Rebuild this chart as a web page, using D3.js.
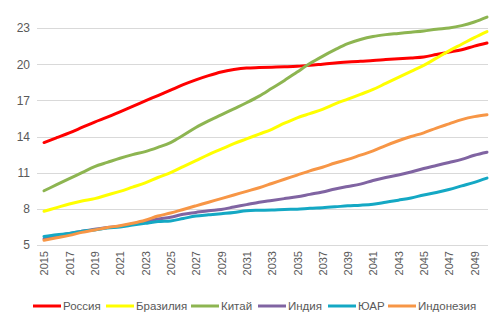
<!DOCTYPE html>
<html>
<head>
<meta charset="utf-8">
<script src="https://cdn.jsdelivr.net/npm/d3@7"></script>
<style>
  body { margin: 0; background: #fff; }
  text { font-family: "Liberation Sans", Arial, sans-serif; fill: #595959; }
</style>
</head>
<body>
<div id="chart"></div>
<script>
const years = d3.range(2015, 2051);
const yTicks = [5, 8, 11, 14, 17, 20, 23];

const russia = [13.5, 13.9, 14.3, 14.75, 15.2, 15.6, 16.05, 16.5, 16.95, 17.4, 17.85, 18.3, 18.7, 19.05, 19.35, 19.55, 19.68, 19.72, 19.75, 19.78, 19.82, 19.9, 20.0, 20.1, 20.18, 20.25, 20.3, 20.38, 20.45, 20.52, 20.6, 20.8, 21.0, 21.2, 21.5, 21.75];
const brazil = [7.8, 8.1, 8.4, 8.65, 8.85, 9.15, 9.45, 9.8, 10.15, 10.6, 11.0, 11.5, 12.0, 12.5, 12.95, 13.4, 13.8, 14.2, 14.6, 15.1, 15.55, 15.9, 16.25, 16.7, 17.1, 17.5, 17.9, 18.4, 18.9, 19.4, 19.9, 20.5, 21.1, 21.65, 22.2, 22.7];
const china = [9.5, 10.0, 10.5, 11.0, 11.5, 11.85, 12.2, 12.5, 12.75, 13.1, 13.5, 14.1, 14.75, 15.3, 15.8, 16.3, 16.8, 17.35, 18.0, 18.65, 19.35, 20.05, 20.65, 21.2, 21.7, 22.05, 22.3, 22.45, 22.55, 22.65, 22.75, 22.9, 23.0, 23.2, 23.5, 23.9];
const india = [5.5, 5.75, 5.95, 6.15, 6.3, 6.45, 6.55, 6.75, 6.95, 7.15, 7.3, 7.55, 7.7, 7.85, 7.95, 8.15, 8.35, 8.55, 8.7, 8.85, 9.0, 9.2, 9.4, 9.65, 9.85, 10.05, 10.35, 10.6, 10.8, 11.05, 11.35, 11.6, 11.85, 12.1, 12.45, 12.7];
const sar = [5.7, 5.85, 5.95, 6.15, 6.25, 6.4, 6.5, 6.65, 6.8, 6.95, 7.0, 7.2, 7.4, 7.5, 7.6, 7.7, 7.85, 7.88, 7.9, 7.95, 7.97, 8.05, 8.1, 8.17, 8.25, 8.3, 8.38, 8.55, 8.72, 8.9, 9.15, 9.35, 9.6, 9.9, 10.2, 10.55];
const indonesia = [5.4, 5.6, 5.8, 6.05, 6.25, 6.45, 6.6, 6.8, 7.05, 7.4, 7.65, 7.95, 8.25, 8.55, 8.85, 9.15, 9.45, 9.75, 10.1, 10.45, 10.8, 11.15, 11.45, 11.8, 12.1, 12.45, 12.8, 13.25, 13.65, 14.0, 14.3, 14.7, 15.05, 15.4, 15.65, 15.8];

const seriesNames = ["Россия", "Бразилия", "Китай", "Индия", "ЮАР", "Индонезия"];
const seriesColors = ["#ff0000", "#ffff00", "#8db551", "#8064a2", "#14a8c4", "#f79646"];
const seriesValues = [russia, brazil, china, india, sar, indonesia];

const W = 504, H = 326;
const gridLeft = 37, gridRight = 488;

const svg = d3.select("#chart").append("svg")
  .attr("width", W)
  .attr("height", H);

// scales
const x = d3.scaleLinear().domain([2015, 2050]).range([44, 487]);
const y = d3.scaleLinear().domain([5, 23]).range([245, 28]);

// horizontal grid
svg.append("g")
  .selectAll("line")
  .data(yTicks)
  .join("line")
  .attr("x1", gridLeft).attr("x2", gridRight)
  .attr("y1", d => Math.round(y(d)) + 0.5)
  .attr("y2", d => Math.round(y(d)) + 0.5)
  .attr("stroke", "#d9d9d9")
  .attr("stroke-width", 1);

// y axis labels
const yAxis = svg.append("g")
  .attr("transform", `translate(${gridLeft - 7},0)`)
  .call(d3.axisLeft(y).tickValues(yTicks).tickSize(0).tickPadding(0));
yAxis.select(".domain").remove();
yAxis.selectAll("text")
  .style("font-size", "12px")
  .attr("fill", "#595959");

// x axis labels (rotated)
const xAxis = svg.append("g")
  .attr("transform", "translate(0,251)")
  .call(d3.axisBottom(x).tickValues(years.filter(d => (d - 2015) % 2 === 0)).tickFormat(d3.format("d")).tickSize(0).tickPadding(0));
xAxis.select(".domain").remove();
xAxis.selectAll("text")
  .style("font-size", "11px")
  .attr("fill", "#595959")
  .attr("transform", "rotate(-90)")
  .attr("text-anchor", "end")
  .attr("x", 0)
  .attr("y", 0)
  .attr("dx", "0")
  .attr("dy", "0.35em");

// lines
const line = d3.line()
  .x((d, i) => x(years[i]))
  .y(d => y(d))
  .curve(d3.curveMonotoneX);

svg.append("g")
  .selectAll("path")
  .data(seriesValues)
  .join("path")
  .attr("d", d => line(d))
  .attr("fill", "none")
  .attr("stroke", (d, i) => seriesColors[i])
  .attr("stroke-width", 3)
  .attr("stroke-linejoin", "round")
  .attr("stroke-linecap", "round");

// legend
const legend = svg.append("g").attr("transform", "translate(0,306)");
const legX = [33, 106, 191, 258, 328, 388];
const item = legend.selectAll("g")
  .data(seriesNames)
  .join("g")
  .attr("transform", (d, i) => `translate(${legX[i]},0)`);
item.append("line")
  .attr("x1", 0).attr("x2", 28)
  .attr("y1", 0).attr("y2", 0)
  .attr("stroke", (d, i) => seriesColors[i])
  .attr("stroke-width", 3);
item.append("text")
  .attr("x", 30)
  .attr("y", 0)
  .attr("dy", "0.35em")
  .style("font-size", "11.5px")
  .text(d => d);
</script>
</body>
</html>
